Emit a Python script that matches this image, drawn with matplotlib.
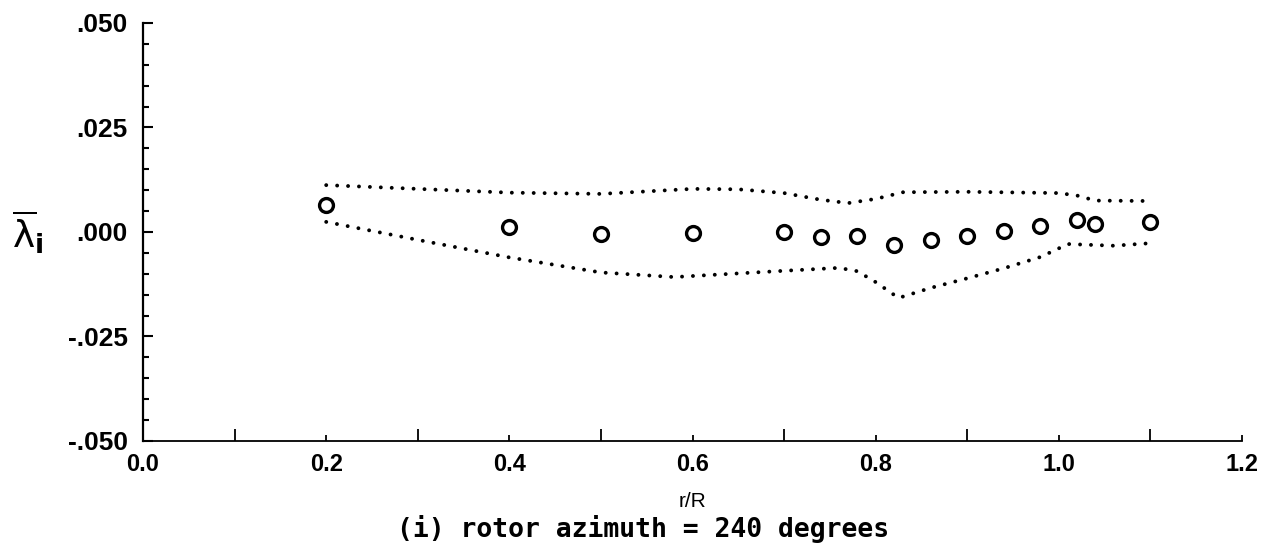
import numpy as np
import matplotlib
matplotlib.use('Agg')
import matplotlib.pyplot as plt
from matplotlib.ticker import FixedLocator

# measured points
r_R = [0.2, 0.4, 0.5, 0.6, 0.7, 0.74, 0.78, 0.82, 0.86, 0.9, 0.94, 0.98, 1.02, 1.04, 1.1]
lam_i = [0.0065, 0.0012, -0.0005, -0.0002, 0.0, -0.0012, -0.001, -0.0031, -0.0019, -0.001,
         0.0002, 0.0014, 0.0029, 0.0019, 0.0024]

# upper / lower dotted bounds
up_x = [0.2, 0.3, 0.4, 0.5, 0.6, 0.65, 0.7, 0.74, 0.77, 0.8, 0.83, 0.9, 1.0, 1.02, 1.04, 1.1]
up_y = [0.0112, 0.0103, 0.0094, 0.0091, 0.0103, 0.0102, 0.0093, 0.0077, 0.0069, 0.0079,
        0.0095, 0.0096, 0.0093, 0.0087, 0.0075, 0.0074]
lo_x = [0.2, 0.3, 0.4, 0.5, 0.58, 0.7, 0.76, 0.78, 0.8, 0.825, 0.86, 0.9, 0.94, 0.98, 1.01,
        1.06, 1.1]
lo_y = [0.0024, -0.0019, -0.0061, -0.0097, -0.0108, -0.0093, -0.0086, -0.0094, -0.012,
        -0.0158, -0.0134, -0.0111, -0.0087, -0.006, -0.0029, -0.0033, -0.0027]

x_ticks = [0.0, 0.2, 0.4, 0.6, 0.8, 1.0, 1.2]
x_ticklabels = ['0.0', '0.2', '0.4', '0.6', '0.8', '1.0', '1.2']
y_ticks = [-0.05, -0.025, 0.0, 0.025, 0.05]
y_ticklabels = ['-.050', '-.025', '.000', '.025', '.050']

fig = plt.figure(figsize=(12.66, 5.47), dpi=100)
ax = fig.add_axes([0.113, 0.194, 0.868, 0.764])

ax.plot(up_x, up_y, color='black', lw=2.8, linestyle=(0, (0.01, 2.8)), dash_capstyle='round')
ax.plot(lo_x, lo_y, color='black', lw=2.8, linestyle=(0, (0.01, 2.8)), dash_capstyle='round')
ax.plot(r_R, lam_i, 'o', markersize=10, markerfacecolor='white', markeredgecolor='black',
        markeredgewidth=2.4, linestyle='none')

ax.set_xlim(0, 1.2)
ax.set_ylim(-0.05, 0.05)

ax.spines['top'].set_visible(False)
ax.spines['right'].set_visible(False)
ax.spines['left'].set_linewidth(1.6)
ax.spines['bottom'].set_linewidth(1.3)

ax.set_xticks(x_ticks)
ax.set_xticklabels(x_ticklabels, fontsize=17, fontweight='bold', family='Liberation Sans')
ax.xaxis.set_minor_locator(FixedLocator([0.1, 0.3, 0.5, 0.7, 0.9, 1.1]))
ax.set_yticks(y_ticks)
ax.set_yticklabels(y_ticklabels, fontsize=19, fontweight='bold', family='Liberation Sans')
ax.yaxis.set_minor_locator(FixedLocator(np.arange(-0.05, 0.0501, 0.005)))

ax.tick_params(axis='x', which='major', direction='in', length=4.5, width=1.3, pad=9)
ax.tick_params(axis='x', which='minor', direction='in', length=8.5, width=1.3)
ax.tick_params(axis='y', which='major', direction='in', length=7, width=1.5, pad=11)
ax.tick_params(axis='y', which='minor', direction='in', length=4, width=1.5)

fig.text(0.547, 0.084, 'r/R', fontsize=15, ha='center', va='center', family='Liberation Sans')
fig.text(0.508, 0.033, '(i) rotor azimuth = 240 degrees', fontsize=19, fontweight='bold',
         ha='center', va='center', family='DejaVu Sans Mono')
fig.text(0.022, 0.576, r'$\overline{\mathrm{\lambda}}_\mathbf{i}$', fontsize=27,
         ha='center', va='center')

fig.savefig('out.png', dpi=100)
